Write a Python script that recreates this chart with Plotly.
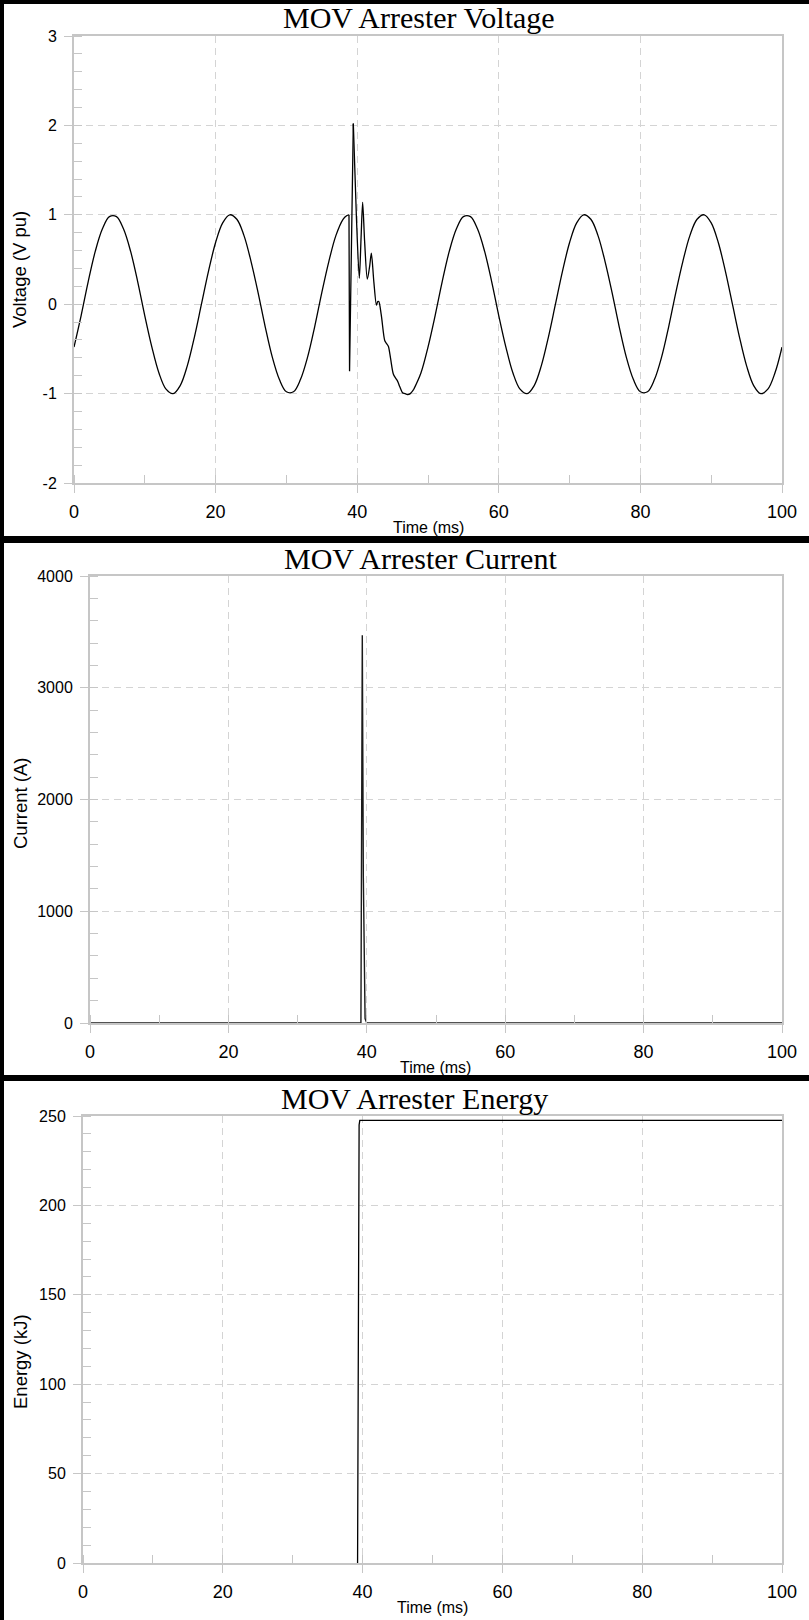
import plotly.graph_objects as go

W, H = 809, 1620

# ---- MOV arrester voltage (per unit) ----
# steady-state portion before the switching event
v_time_pre = [0, 1, 2, 3, 4, 5, 6, 7, 8, 9, 10, 11, 12, 13, 14, 15, 16, 17, 18, 19,
              20, 21, 22, 23, 24, 25, 26, 27, 28, 29, 30, 31, 32, 33, 34, 35, 36, 37,
              38, 38.5, 38.84]
v_pre = [-0.48, -0.13, 0.25, 0.59, 0.84, 0.98, 0.98, 0.84, 0.59, 0.25, -0.13, -0.48,
         -0.77, -0.95, -1.0, -0.91, -0.69, -0.37, 0.0, 0.37, 0.69, 0.91, 1.0, 0.95,
         0.77, 0.48, 0.13, -0.25, -0.59, -0.84, -0.98, -0.98, -0.84, -0.59, -0.25,
         0.13, 0.48, 0.77, 0.95, 0.99, 1.0]

# collapse and first overshoot when the arrester starts conducting
v_time_jump = [38.84, 38.88, 38.92, 39.45]
v_jump = [1.0, 0.2, -0.75, 2.02]

# damped ringing back onto the sine wave
v_time_ring = [39.45, 39.9, 40.3, 40.55, 40.77, 41.05, 41.43, 41.75, 42.0, 42.35, 42.72,
               42.9, 43.05, 43.4, 43.9, 44.15, 44.4, 44.7, 45.1, 45.45, 45.7, 46.0, 46.4,
               46.75, 47.1, 47.5, 48]
v_ring = [2.02, 0.95, 0.29, 0.75, 1.14, 0.7, 0.28, 0.42, 0.57, 0.25, -0.01,
          0.03, 0.03, -0.12, -0.41, -0.44, -0.47, -0.6, -0.78, -0.83, -0.86, -0.92, -0.99,
          -1.0, -1.01, -1.0, -0.95]

# recovered steady state
v_time_post = [48, 49, 50, 51, 52, 53, 54, 55, 56, 57, 58, 59, 60, 61, 62, 63, 64, 65,
               66, 67, 68, 69, 70, 71, 72, 73, 74, 75, 76, 77, 78, 79, 80, 81, 82, 83,
               84, 85, 86, 87, 88, 89, 90, 91, 92, 93, 94, 95, 96, 97, 98, 99, 100]
v_post = [-0.95, -0.77, -0.48, -0.13, 0.25, 0.59, 0.84, 0.98, 0.98, 0.84, 0.59, 0.25,
          -0.13, -0.48, -0.77, -0.95, -1.0, -0.91, -0.69, -0.37, 0.0, 0.37, 0.69, 0.91,
          1.0, 0.95, 0.77, 0.48, 0.13, -0.25, -0.59, -0.84, -0.98, -0.98, -0.84, -0.59,
          -0.25, 0.13, 0.48, 0.77, 0.95, 1.0, 0.91, 0.69, 0.37, 0.0, -0.37, -0.69,
          -0.91, -1.0, -0.95, -0.77, -0.48]

# ---- MOV arrester current (A) ----
i_time = [0, 39.15, 39.35, 39.5, 39.75, 40.0, 100]
i_amp = [0, 0, 3470, 1300, 40, 0, 0]

# ---- MOV arrester energy (kJ), from the start of conduction ----
e_time = [39.28, 39.32, 39.42, 39.5, 39.6, 100]
e_kj = [0, 60, 215, 245, 247.5, 247.5]

# ---- tick labels ----
x_ticks = [0, 20, 40, 60, 80, 100]
v_ticks = [-2, -1, 0, 1, 2, 3]
v_tick_text = ["-2", "-1", "0", "1", "2", "3"]


# ---- layout helpers (pixel -> paper) ----
def px(x):
    return x / W


def py(y):
    return 1 - y / H


GRID = "#d4d4d4"
AXIS = "#c6c6c6"
LABEL_FONT = "Liberation Sans, Arial, sans-serif"
TITLE_FONT = "Liberation Serif, Times New Roman, serif"

panels = [
    # (top offset, plot left, y range, y dtick, y minor, y title, title, title x, y-title y)
    (0, 74, [-2, 3], 1, 0.2, "Voltage (V pu)", "MOV Arrester Voltage", 419, 270),
    (540, 90, [0, 4000], 1000, 200, "Current (A)", "MOV Arrester Current", 420, 263),
    (1080, 83, [0, 250], 50, 10, "Energy (kJ)", "MOV Arrester Energy", 415, 282),
]

fig = go.Figure()

line = dict(color="black", width=1.3)
fig.add_trace(go.Scatter(x=v_time_pre, y=v_pre, mode="lines",
                         line=dict(line, shape="spline"), xaxis="x", yaxis="y"))
fig.add_trace(go.Scatter(x=v_time_jump, y=v_jump, mode="lines", line=line,
                         xaxis="x", yaxis="y"))
fig.add_trace(go.Scatter(x=v_time_ring, y=v_ring, mode="lines",
                         line=dict(line, shape="spline", smoothing=0.8), xaxis="x", yaxis="y"))
fig.add_trace(go.Scatter(x=v_time_post, y=v_post, mode="lines",
                         line=dict(line, shape="spline"), xaxis="x", yaxis="y"))
fig.add_trace(go.Scatter(x=i_time, y=i_amp, mode="lines",
                         line=dict(color="#1a1a1a", width=1.4), xaxis="x2", yaxis="y2"))
fig.add_trace(go.Scatter(x=e_time, y=e_kj, mode="lines",
                         line=dict(color="black", width=1.3), xaxis="x3", yaxis="y3"))

annotations = []
shapes = []
layout_axes = {}

for k, (top, left, yr, ydt, ymin, ytitle, title, tx, ty) in enumerate(panels, start=1):
    sfx = "" if k == 1 else str(k)
    plot_top = top + 36
    plot_bot = top + 483
    right = 782
    layout_axes["xaxis" + sfx] = dict(
        domain=[px(left), px(right)], anchor="y" + sfx, range=[0, 100], automargin=False,
        tickvals=x_ticks, ticks="outside", ticklen=8, tickwidth=1, tickcolor=AXIS,
        showline=True, linecolor=AXIS, linewidth=2, mirror=True,
        showgrid=True, gridcolor=GRID, griddash="7px,5px", gridwidth=1,
        zeroline=False, tickfont=dict(family=LABEL_FONT, size=18, color="black"),
        ticklabelstandoff=3,
        minor=dict(dtick=10, ticks="inside", ticklen=8, tickcolor=AXIS, showgrid=False),
        fixedrange=True,
    )
    yax = dict(
        domain=[py(plot_bot), py(plot_top)], anchor="x" + sfx, range=yr, automargin=False,
        dtick=ydt, tick0=yr[0], ticks="outside", ticklen=8, tickwidth=1, tickcolor=AXIS,
        showline=True, linecolor=AXIS, linewidth=2, mirror=True,
        showgrid=True, gridcolor=GRID, griddash="7px,5px", gridwidth=1,
        zeroline=False, tickfont=dict(family=LABEL_FONT, size=16, color="black"),
        ticklabelstandoff=4,
        minor=dict(dtick=ymin, ticks="inside", ticklen=8, tickcolor=AXIS, showgrid=False),
        fixedrange=True,
    )
    if k == 1:
        yax.update(tickmode="array", tickvals=v_ticks, ticktext=v_tick_text)
    layout_axes["yaxis" + sfx] = yax

    # panel title
    annotations.append(dict(text=title, x=px(tx), y=py(top + 18), xref="paper", yref="paper",
                            showarrow=False, xanchor="center", yanchor="middle",
                            font=dict(family=TITLE_FONT, size=30, color="black")))
    # x axis title
    annotations.append(dict(text="Time (ms)", x=px((left + right) / 2), y=py(top + 527),
                            xref="paper", yref="paper", showarrow=False,
                            xanchor="center", yanchor="middle",
                            font=dict(family=LABEL_FONT, size=16, color="black")))
    # y axis title
    annotations.append(dict(text=ytitle, x=px(20), y=py(top + ty),
                            xref="paper", yref="paper", showarrow=False, textangle=-90,
                            xanchor="center", yanchor="middle",
                            font=dict(family=LABEL_FONT, size=18.5, color="black")))

# black frame bars
for y0, y1 in [(0, 4), (536, 543), (1075, 1081)]:
    shapes.append(dict(type="rect", xref="paper", yref="paper", x0=0, x1=1,
                       y0=py(y1), y1=py(y0), fillcolor="black", line=dict(width=0)))
shapes.append(dict(type="rect", xref="paper", yref="paper", x0=px(0), x1=px(4),
                   y0=0, y1=1, fillcolor="black", line=dict(width=0)))

fig.update_layout(
    width=W, height=H, margin=dict(l=0, r=0, t=0, b=0, autoexpand=False),
    paper_bgcolor="white", plot_bgcolor="white", showlegend=False,
    annotations=annotations, shapes=shapes, **layout_axes,
)

fig.write_html("out.html", config={"displayModeBar": False})
